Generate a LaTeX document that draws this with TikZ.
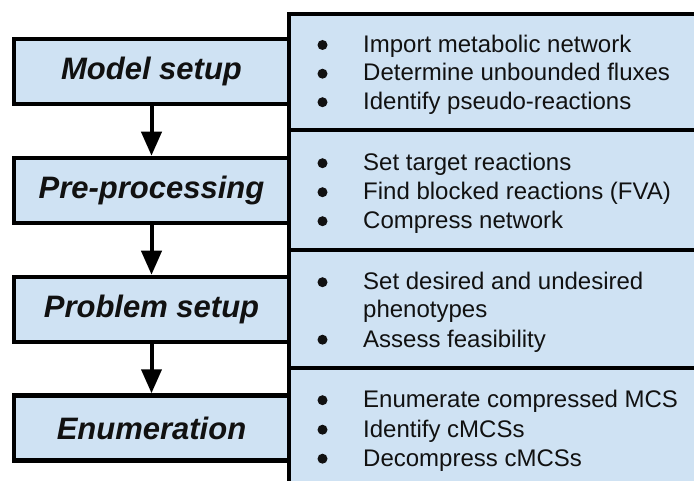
\documentclass[tikz,border=0pt]{standalone}
\usepackage{fontspec}
\setmainfont{Liberation Sans}
\usetikzlibrary{arrows.meta}
\definecolor{stagefill}{HTML}{CFE2F3}
\definecolor{inkdark}{HTML}{111111}

\begin{document}
\begin{tikzpicture}[x=1pt,y=-1pt,
  stage/.style={draw=black, fill=stagefill, line width=4.5pt,
    minimum width=275pt, minimum height=65pt, inner sep=0pt,
    text=inkdark, font=\fontsize{31}{36}\selectfont\bfseries\itshape},
  panel/.style={draw=black, fill=stagefill, line width=4.5pt,
    minimum width=440pt, inner sep=0pt, outer sep=0pt, anchor=north west},
  task/.style={anchor=base west, inner sep=0pt, text=inkdark,
    font=\fontsize{24}{28.5}\selectfont},
  flow/.style={line width=4pt, -{Triangle[length=24pt,width=20pt]}},
  taskdot/.style={fill=inkdark}
]
\useasboundingbox (0,0) rectangle (694,481);
\clip (0,0) rectangle (694,481);

% task panels on the right, running off the page edge
\node[panel, minimum height=116pt] (p1) at (289,14) {};
\node[panel, minimum height=120pt] (p2) at (289,130) {};
\node[panel, minimum height=118pt] (p3) at (289,250) {};
\node[panel, minimum height=130pt] (p4) at (289,368) {};

% task lines
\node[task] (a1) at (363,52.3)  {Import metabolic network};
\node[task] (a2) at (363,81)    {Determine unbounded fluxes};
\node[task] (a3) at (363,109.5) {Identify pseudo-reactions};

\node[task] (b1) at (363,170.5) {Set target reactions};
\node[task] (b2) at (363,199.5) {Find blocked reactions (FVA)};
\node[task] (b3) at (363,228.5) {Compress network};

\node[task] (c1) at (363,289.5) {Set desired and undesired};
\node[task] (c2) at (363,318)   {phenotypes};
\node[task] (c3) at (363,347)   {Assess feasibility};

\node[task] (d1) at (363,407.5) {Enumerate compressed MCS};
\node[task] (d2) at (363,437)   {Identify cMCSs};
\node[task] (d3) at (363,466)   {Decompress cMCSs};

% list bullets
\foreach \line in {a1,a2,a3,b1,b2,b3,c1,c3,d1,d2,d3}
  \fill[taskdot] ([xshift=-40.5pt,yshift=7.3pt]\line.base west) circle (5pt);

% workflow stages
\node[stage] (model) at (151.5,71.5) {Model setup};
\node[stage] (pre)   at (151.5,190.5) {Pre-processing};
\node[stage] (prob)  at (151.5,309.5) {Problem setup};
\node[stage] (enum)  at (151.5,428) {Enumeration};

\draw[flow] (model.south) -- (pre.north);
\draw[flow] (pre.south) -- (prob.north);
\draw[flow] (prob.south) -- (enum.north);
\end{tikzpicture}
\end{document}
